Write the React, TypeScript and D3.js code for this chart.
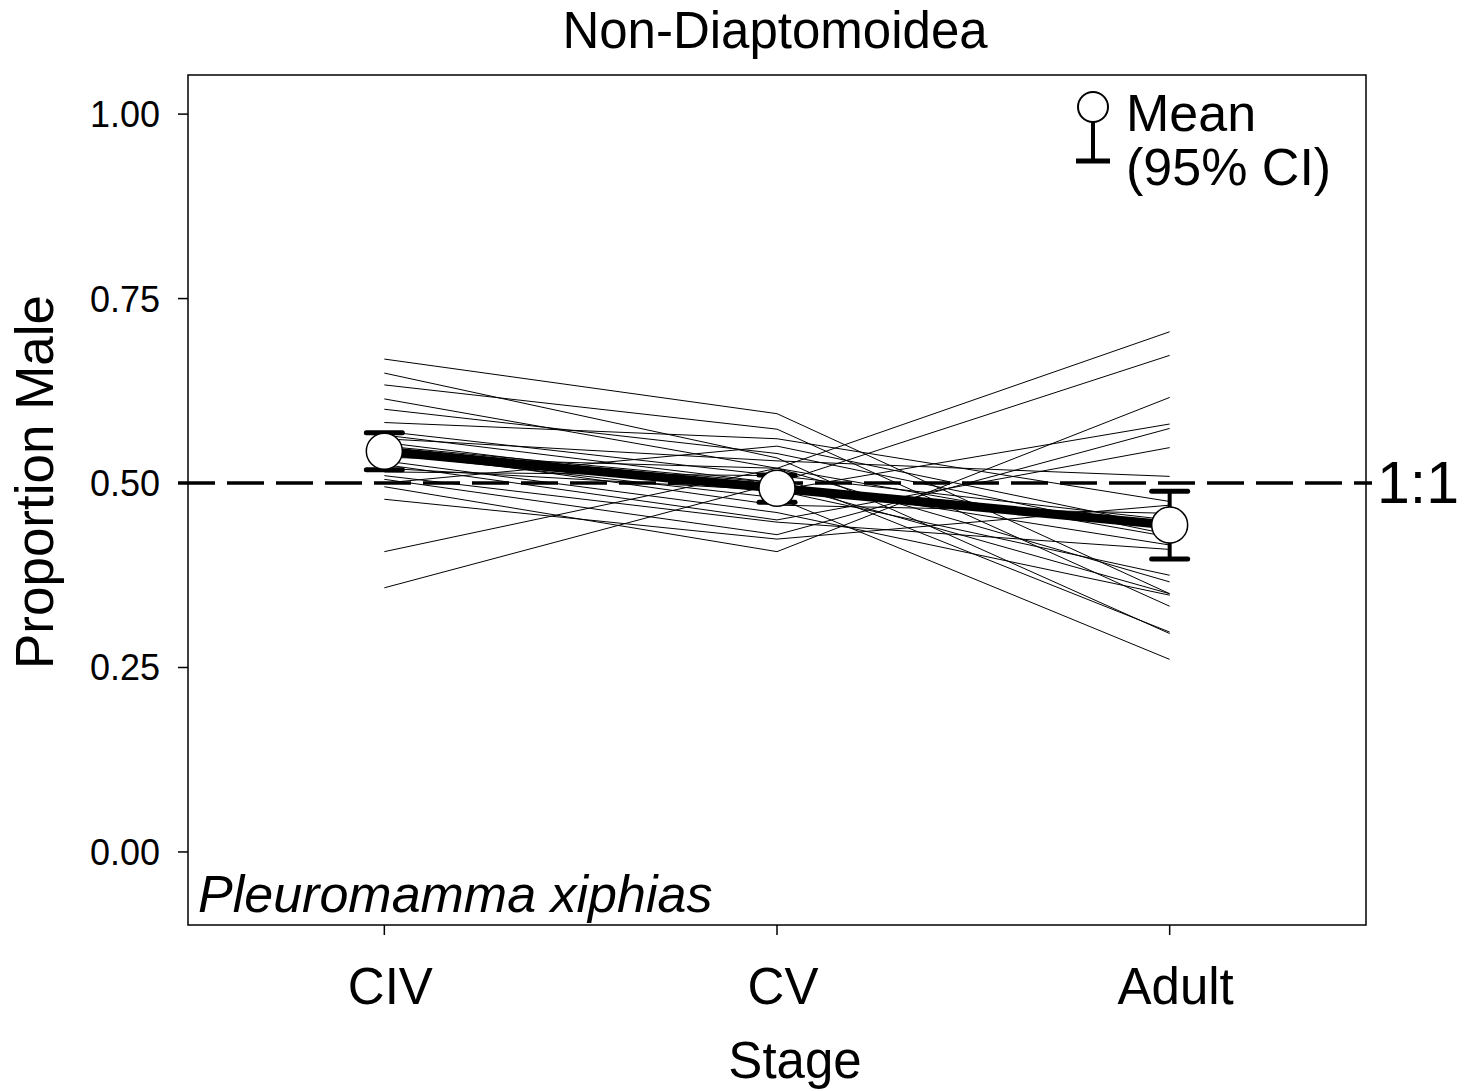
import React from "react";
import * as d3 from "d3";

const stages = ["CIV", "CV", "Adult"];
const yTicks = [0, 0.25, 0.5, 0.75, 1.0];

// individual sample lines: values at CIV, CV, Adult
const civValues = [0.668, 0.649, 0.633, 0.614, 0.600, 0.582, 0.570, 0.565, 0.560, 0.555, 0.550, 0.545, 0.540, 0.535, 0.530, 0.525, 0.520, 0.515, 0.510, 0.505, 0.500, 0.478, 0.407, 0.358, 0.495];
const cvValues = [0.594, 0.534, 0.573, 0.520, 0.540, 0.560, 0.510, 0.500, 0.530, 0.490, 0.500, 0.470, 0.480, 0.520, 0.460, 0.450, 0.490, 0.510, 0.447, 0.430, 0.550, 0.424, 0.520, 0.500, 0.407];
const adultValues = [0.350, 0.296, 0.333, 0.366, 0.430, 0.475, 0.298, 0.350, 0.509, 0.375, 0.416, 0.459, 0.261, 0.427, 0.348, 0.548, 0.580, 0.450, 0.410, 0.574, 0.440, 0.470, 0.705, 0.673, 0.616];

const meanValues = [0.543, 0.493, 0.443];
const ciLow = [0.518, 0.474, 0.397];
const ciHigh = [0.568, 0.511, 0.489];

const FONT = "'Liberation Sans', Arial, sans-serif";

export default function App() {
  const W = 1466, H = 1091;
  const left = 188, right = 1366, top = 75, bottom = 925;
  const x = d3.scaleBand<string>().domain(stages).range([left, right]).padding(0);
  const cx = (s: string) => (x(s) as number) + x.bandwidth() / 2;
  const y = d3.scaleLinear().domain([-0.099, 1.053]).range([bottom, top]);

  const lines = civValues.map((v, i) => [v, cvValues[i], adultValues[i]]);
  const lineGen = d3.line<number>().x((_, i) => cx(stages[i])).y((d) => y(d));

  return (
    <svg width={W} height={H} style={{ position: "absolute", left: 0, top: 0, background: "#fff" }} fontFamily={FONT}>
      <rect x={0} y={0} width={W} height={H} fill="#fff" />
      {/* title */}
      <text x={775} y={48} fontSize={51} textAnchor="middle">Non-Diaptomoidea</text>

      {/* individual lines */}
      {lines.map((l, i) => (
        <path key={i} d={lineGen(l) as string} fill="none" stroke="#000" strokeWidth={1} />
      ))}

      {/* dashed 1:1 line */}
      <line x1={178} x2={1372} y1={y(0.5)} y2={y(0.5)} stroke="#000" strokeWidth={3.5} strokeDasharray="37 12" />
      <text x={1377} y={y(0.5) + 20} fontSize={59}>1:1</text>

      {/* mean line */}
      <path d={lineGen(meanValues) as string} fill="none" stroke="#000" strokeWidth={9} strokeLinejoin="round" />

      {/* error bars */}
      {stages.map((s, i) => (
        <g key={s}>
          <line x1={cx(s)} x2={cx(s)} y1={y(ciLow[i])} y2={y(ciHigh[i])} stroke="#000" strokeWidth={4} />
          <line x1={cx(s) - 18} x2={cx(s) + 18} y1={y(ciLow[i])} y2={y(ciLow[i])} stroke="#000" strokeWidth={5} strokeLinecap="round" />
          <line x1={cx(s) - 18} x2={cx(s) + 18} y1={y(ciHigh[i])} y2={y(ciHigh[i])} stroke="#000" strokeWidth={5} strokeLinecap="round" />
          <circle cx={cx(s)} cy={y(meanValues[i])} r={18} fill="#fff" stroke="#000" strokeWidth={1.5} />
        </g>
      ))}

      {/* frame */}
      <rect x={left} y={top} width={right - left} height={bottom - top} fill="none" stroke="#000" strokeWidth={1.5} />

      {/* y axis */}
      {yTicks.map((t) => (
        <g key={t}>
          <line x1={178} x2={left} y1={y(t)} y2={y(t)} stroke="#000" strokeWidth={1.5} />
          <text x={160} y={y(t) + 13} fontSize={36} textAnchor="end">{t.toFixed(2)}</text>
        </g>
      ))}
      <text transform={`translate(53, 482) rotate(-90)`} fontSize={53} textAnchor="middle">Proportion Male</text>

      {/* x axis */}
      {stages.map((s) => (
        <g key={s}>
          <line x1={cx(s)} x2={cx(s)} y1={bottom} y2={bottom + 10} stroke="#000" strokeWidth={1.5} />
          <text x={cx(s) + 6} y={1004} fontSize={51} textAnchor="middle">{s}</text>
        </g>
      ))}
      <text x={795} y={1078} fontSize={51} textAnchor="middle">Stage</text>

      {/* species label */}
      <text x={198} y={912} fontSize={52} fontStyle="italic">Pleuromamma xiphias</text>

      {/* legend */}
      <circle cx={1093} cy={107} r={15} fill="#fff" stroke="#000" strokeWidth={2} />
      <line x1={1093} x2={1093} y1={122} y2={161} stroke="#000" strokeWidth={4} />
      <line x1={1076} x2={1110} y1={161} y2={161} stroke="#000" strokeWidth={5} />
      <text x={1126} y={131} fontSize={52}>Mean</text>
      <text x={1126} y={185} fontSize={52}>(95% CI)</text>
    </svg>
  );
}
